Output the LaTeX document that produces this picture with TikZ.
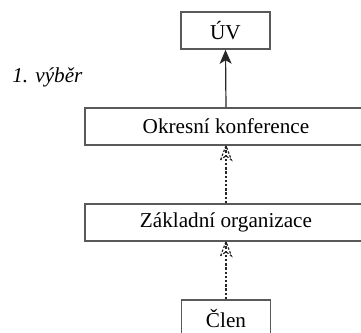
\documentclass[tikz,border=0pt]{standalone}
\usepackage{fontspec}
\setmainfont{Liberation Serif}
\usetikzlibrary{arrows.meta}
\begin{document}
\begin{tikzpicture}[x=0.5pt, y=-0.5pt,
		organ/.style={draw=black!65, line width=0.8pt, inner sep=0pt, minimum height=18.5pt, font=\fontsize{10.6}{12}\selectfont},
		short/.style={organ, minimum width=44.5pt},
		long/.style={organ, minimum width=141pt},
		volba/.style={draw=black!85, line width=0.6pt, -{Stealth[length=7pt, width=6pt, inset=1.8pt]}},
		delegace/.style={draw=black!85, line width=0.6pt, dash pattern=on 1.2pt off 0.9pt}]
		\useasboundingbox (0,0) rectangle (361,333);
		\clip (0,0) rectangle (361,333);
		\node [short] (uv) at (225.5,30.5) {ÚV};
		\node [long] (okres) at (226,126.5) {Okresní konference};
		\node [long] (zo) at (226,222.5) {Základní organizace};
		\node [short] (clen) at (226,318.5) {Člen};
		\node [font=\fontsize{10.6}{12}\selectfont\itshape, anchor=west, inner sep=0pt] (vyber) at (12,77) {1. výběr};
		\draw [volba] (okres.north) -- (uv.south);
		\draw [delegace] (zo.north) -- (okres.south);
		\draw [delegace] (clen.north) -- (zo.south);
		% hroty teckovanych sipek
		\foreach \n in {okres, zo} {
			\draw [delegace] ([xshift=-2.7pt, yshift=-7pt]\n.south) -- (\n.south) -- ([xshift=2.7pt, yshift=-7pt]\n.south)
				-- ([yshift=-5pt]\n.south) -- cycle;
		};
	\end{tikzpicture}
\end{document}
